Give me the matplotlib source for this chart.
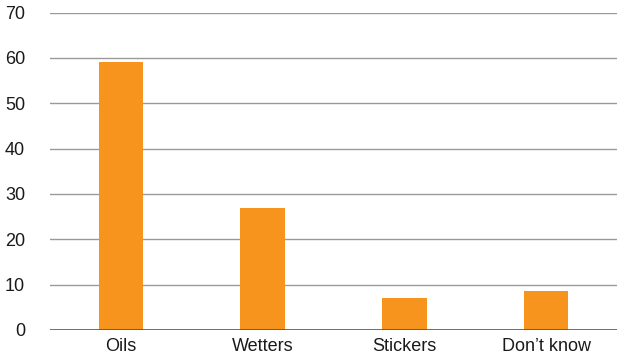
import matplotlib
matplotlib.use("Agg")
import matplotlib.pyplot as plt

categories = ["Oils", "Wetters", "Stickers", "Don\u2019t know"]
values = [59.1, 26.9, 7.1, 8.6]
yticks = [0, 10, 20, 30, 40, 50, 60, 70]

plt.rcParams['font.family'] = ['Liberation Sans', 'DejaVu Sans']

fig = plt.figure(figsize=(6.17, 3.62), dpi=100)
ax = fig.add_axes([50 / 617, 32 / 362, 567 / 617, 317.5 / 362])

x = range(len(categories))
ax.bar(x, values, width=0.315, color="#F7941D", zorder=3)

ax.set_xlim(-0.5, len(categories) - 0.5)
ax.set_ylim(0, 70)
ax.set_yticks(yticks)
ax.set_xticks(list(x))
ax.set_xticklabels(categories)

for t in yticks[1:]:
    ax.axhline(t, color="#9a9a9a", lw=1, zorder=1)
ax.axhline(0, color="#555555", lw=1.2, zorder=4)

for s in ax.spines.values():
    s.set_visible(False)
ax.tick_params(axis="both", length=0, labelsize=13, colors="#1a1a1a")
ax.tick_params(axis="y", pad=18)
ax.tick_params(axis="x", pad=6)
for lab in ax.get_yticklabels():
    lab.set_horizontalalignment("right")

fig.savefig("out.png", dpi=100)
